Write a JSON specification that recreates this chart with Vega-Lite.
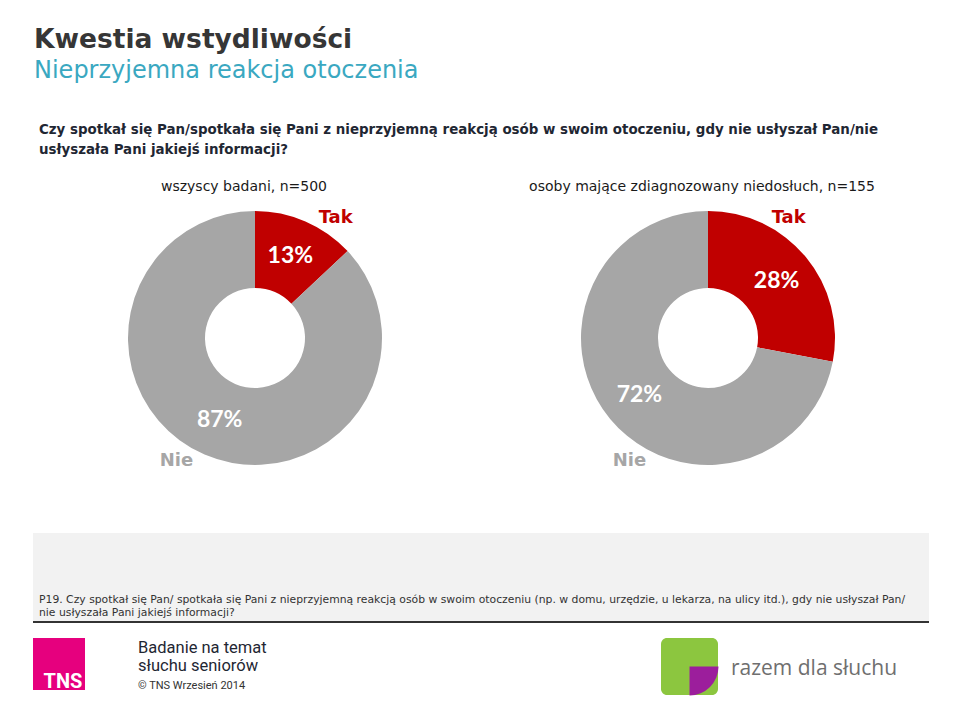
{
  "$schema": "https://vega.github.io/schema/vega-lite/v6.json",
  "background": "white",
  "padding": {"left": 32, "top": 27, "right": 0, "bottom": 0},
  "config": {
    "view": {"stroke": null},
    "font": "DejaVu Sans",
    "title": {"font": "DejaVu Sans"}
  },
  "datasets": {
    "donuts": [
      {"group": "wszyscy badani, n=500", "category": "Tak", "ord": 1, "pct": 0.13},
      {"group": "wszyscy badani, n=500", "category": "Nie", "ord": 2, "pct": 0.87},
      {"group": "osoby mające zdiagnozowany niedosłuch, n=155", "category": "Tak", "ord": 1, "pct": 0.28},
      {"group": "osoby mające zdiagnozowany niedosłuch, n=155", "category": "Nie", "ord": 2, "pct": 0.72}
    ]
  },
  "title": {
    "text": "Kwestia wstydliwości",
    "subtitle": "Nieprzyjemna reakcja otoczenia",
    "anchor": "start",
    "frame": "group",
    "fontSize": 26.5,
    "fontWeight": "bold",
    "color": "#363636",
    "subtitleFont": "DejaVu Sans",
    "subtitleFontSize": 24,
    "subtitleColor": "#3aa8c1",
    "subtitlePadding": 5,
    "offset": 40,
    "dx": 1
  },
  "spacing": 55,
  "vconcat": [
    {
      "title": {
        "text": ["Czy spotkał się Pan/spotkała się Pani z nieprzyjemną reakcją osób w swoim otoczeniu, gdy nie usłyszał Pan/nie", "usłyszała Pani jakiejś informacji?"],
        "anchor": "start",
        "frame": "group",
        "fontSize": 13.4,
        "fontWeight": "bold",
        "color": "#1f2733",
        "lineHeight": 20,
        "dx": 6,
        "offset": 24
      },
      "spacing": 9,
      "hconcat": [
        {
          "width": 444,
          "height": 280,
          "title": {"text": "wszyscy badani, n=500", "fontSize": 14, "fontWeight": "normal", "color": "#1a1a1a", "offset": 4, "dx": -11},
          "data": {"name": "donuts"},
          "transform": [{"filter": "datum.group === 'wszyscy badani, n=500'"}],
          "encoding": {
            "theta": {"field": "pct", "type": "quantitative", "stack": true},
            "order": {"field": "ord", "type": "quantitative"},
            "color": {"field": "category", "type": "nominal", "scale": {"domain": ["Tak", "Nie"], "range": ["#c00000", "#a6a6a6"]}, "legend": null}
          },
          "layer": [
            {"mark": {"type": "arc", "innerRadius": 50, "outerRadius": 127}},
            {"mark": {"type": "text", "radius": 89, "font": "Lato", "fontSize": 23, "fontWeight": "bold"}, "encoding": {"text": {"field": "pct", "format": ".0%"}, "color": {"value": "white"}}},
            {"transform": [{"filter": "datum.category === 'Tak'"}], "mark": {"type": "text", "fontSize": 18, "fontWeight": "bold"}, "encoding": {"theta": {"value": 0.59}, "radius": {"value": 145}, "text": {"field": "category"}}},
            {"transform": [{"filter": "datum.category === 'Nie'"}], "mark": {"type": "text", "fontSize": 18, "fontWeight": "bold"}, "encoding": {"theta": {"value": 3.71}, "radius": {"value": 146}, "text": {"field": "category"}}}
          ]
        },
        {
          "width": 444,
          "height": 280,
          "title": {"text": "osoby mające zdiagnozowany niedosłuch, n=155", "fontSize": 14, "fontWeight": "normal", "color": "#1a1a1a", "offset": 4, "dx": -6},
          "data": {"name": "donuts"},
          "transform": [{"filter": "datum.group === 'osoby mające zdiagnozowany niedosłuch, n=155'"}],
          "encoding": {
            "theta": {"field": "pct", "type": "quantitative", "stack": true},
            "order": {"field": "ord", "type": "quantitative"},
            "color": {"field": "category", "type": "nominal", "scale": {"domain": ["Tak", "Nie"], "range": ["#c00000", "#a6a6a6"]}, "legend": null}
          },
          "layer": [
            {"mark": {"type": "arc", "innerRadius": 50, "outerRadius": 127}},
            {"mark": {"type": "text", "radius": 89, "font": "Lato", "fontSize": 23, "fontWeight": "bold"}, "encoding": {"text": {"field": "pct", "format": ".0%"}, "color": {"value": "white"}}},
            {"transform": [{"filter": "datum.category === 'Tak'"}], "mark": {"type": "text", "fontSize": 18, "fontWeight": "bold"}, "encoding": {"theta": {"value": 0.59}, "radius": {"value": 145}, "text": {"field": "category"}}},
            {"transform": [{"filter": "datum.category === 'Nie'"}], "mark": {"type": "text", "fontSize": 18, "fontWeight": "bold"}, "encoding": {"theta": {"value": 3.71}, "radius": {"value": 146}, "text": {"field": "category"}}}
          ]
        }
      ]
    },
    {
      "spacing": 15,
      "vconcat": [
        {
          "width": 896,
          "height": 89,
          "view": {"fill": "#f2f2f2", "stroke": null},
          "data": {"values": [{"note": "P19. Czy spotkał się Pan/ spotkała się Pani z nieprzyjemną reakcją osób w swoim otoczeniu (np. w domu, urzędzie, u lekarza, na ulicy itd.), gdy nie usłyszał Pan/\nnie usłyszała Pani jakiejś informacji?"}]},
          "layer": [
            {"mark": {"type": "rule", "color": "#333333", "strokeWidth": 2}, "encoding": {"y": {"value": "height"}}},
            {"mark": {"type": "text", "align": "left", "baseline": "alphabetic", "fontSize": 10.8, "color": "#333333", "lineBreak": "\n", "lineHeight": 12.5, "dx": 6, "dy": -19}, "encoding": {"text": {"field": "note"}, "x": {"value": 0}, "y": {"value": "height"}}}
          ]
        },
        {
          "spacing": 53,
          "hconcat": [
            {
              "width": 52,
              "height": 52,
              "view": {"fill": "#e6007e", "stroke": null},
              "data": {"values": [{"brand": "TNS"}]},
              "mark": {"type": "text", "font": "Roboto", "fontSize": 20, "fontWeight": "bold", "color": "white", "baseline": "alphabetic", "dx": 4, "dy": 24},
              "encoding": {"text": {"field": "brand"}}
            },
            {
              "width": 470,
              "height": 52,
              "data": {"values": [{"study": "Badanie na temat\nsłuchu seniorów", "copyright": "© TNS Wrzesień 2014"}]},
              "layer": [
                {"mark": {"type": "text", "align": "left", "baseline": "top", "font": "Roboto", "fontSize": 16.5, "color": "#1f2733", "lineBreak": "\n", "lineHeight": 18, "dy": 2}, "encoding": {"text": {"field": "study"}, "x": {"value": 0}, "y": {"value": 0}}},
                {"mark": {"type": "text", "align": "left", "baseline": "alphabetic", "font": "Roboto", "fontSize": 11, "color": "#333333", "dy": -1}, "encoding": {"text": {"field": "copyright"}, "x": {"value": 0}, "y": {"value": "height"}}}
              ]
            },
            {
              "spacing": 10,
              "hconcat": [
                {
                  "width": 57,
                  "height": 57,
                  "view": {"fill": "#8cc63f", "stroke": null, "cornerRadius": 6},
                  "data": {"values": [{"part": "person"}]},
                  "mark": {"type": "arc", "color": "#9c1e9c", "theta": 1.5708, "theta2": 3.1416, "outerRadius": 29},
                  "encoding": {}
                },
                {
                  "width": 170,
                  "height": 57,
                  "data": {"values": [{"brand": "razem dla słuchu"}]},
                  "mark": {"type": "text", "font": "Open Sans", "fontSize": 21, "color": "#6f6f6f", "baseline": "alphabetic", "dy": 8},
                  "encoding": {"text": {"field": "brand"}}
                }
              ]
            }
          ]
        }
      ]
    }
  ]
}
